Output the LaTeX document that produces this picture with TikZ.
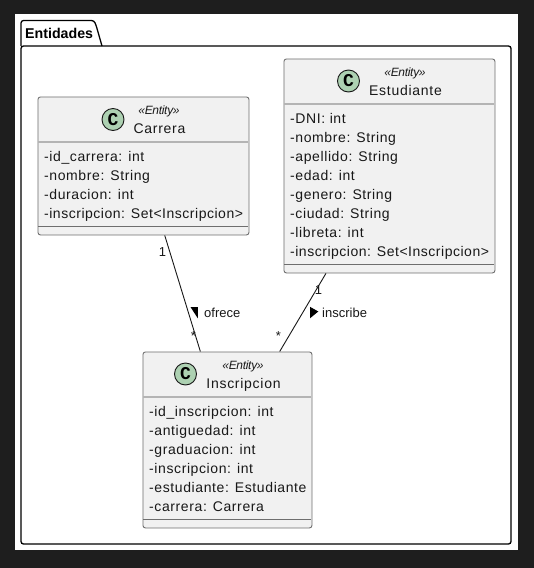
\documentclass[tikz,border=0pt]{standalone}
\usepackage{fontspec}
\setmainfont{Liberation Sans}
\newfontfamily\spaced[LetterSpace=4.3]{Liberation Sans}
\newfontfamily\spacedlong[LetterSpace=3.7]{Liberation Sans}
\newfontfamily\spacedname[LetterSpace=5.2]{Liberation Sans}
\newfontfamily\tightital[LetterSpace=-2.5]{Liberation Sans Italic}
\newfontfamily\circlefont{Liberation Mono}
\tikzset{
  classbox/.style={draw=boxline,fill=boxfill,line width=0.9pt,rounded corners=2.5pt,inner sep=0pt,anchor=north west},
  member/.style={anchor=base west,inner sep=0pt,font=\spaced\fontsize{14}{14}\selectfont,text=textc},
  longmember/.style={member,font=\spacedlong\fontsize{14}{14}\selectfont},
  classname/.style={anchor=base,inner sep=0pt,font=\spacedname\fontsize{14}{14}\selectfont,text=textc},
  stereo/.style={anchor=base,inner sep=0pt,font=\tightital\fontsize{12}{12}\selectfont,text=textc},
  small/.style={anchor=base,inner sep=0pt,font=\fontsize{13}{13}\selectfont,text=textc},
  badge/.style={circle,draw=textc,fill=badgec,line width=0.9pt,minimum size=22pt,inner sep=0pt,font=\circlefont\bfseries\fontsize{18}{18}\selectfont},
  sepgrey/.style={draw=sepc,line width=1.6pt},
  septhin/.style={draw=boxline,line width=0.8pt},
  link/.style={draw=textc,line width=0.9pt},
}
\definecolor{boxline}{HTML}{6E6E6E}
\definecolor{boxfill}{HTML}{F1F1F1}
\definecolor{sepc}{HTML}{B4B4B4}
\definecolor{textc}{HTML}{181818}
\definecolor{badgec}{HTML}{ADD1B2}
\definecolor{darkbg}{HTML}{1E1E1E}
\begin{document}
\begin{tikzpicture}[x=1pt,y=-1pt]
\useasboundingbox (0,0) rectangle (534,568);
\fill[darkbg] (0,0) rectangle (534,568);
\fill[white] (15,14) rectangle (518,550);
% package
\draw[black,line width=1.3pt,line join=round,rounded corners=2.5pt]
  (21,46) -- (21,20.5) -- (94,20.5) -- (96,25) -- (102,46);
\draw[black,line width=1.3pt,rounded corners=2.5pt]
  (21,46) -- (511,46) -- (511,544) -- (21,544) -- cycle;
\node[anchor=base west,inner sep=0pt,font=\bfseries\fontsize{14.2}{14}\selectfont,text=black] (pkg) at (25,38) {Entidades};

% class boxes
\node[classbox,minimum width=211pt,minimum height=138pt] (carrera) at (37.5,96.5) {};
\node[classbox,minimum width=211pt,minimum height=214pt] (estudiante) at (283.5,58.5) {};
\node[classbox,minimum width=169pt,minimum height=176pt] (inscripcion) at (142.5,351.5) {};

% connectors
\draw[link] (carrera) -- (inscripcion);
\draw[link] (estudiante) -- (inscripcion);

% separators
\draw[sepgrey] (38,142) -- (248,142);
\draw[septhin] (38,226) -- (248,226);
\draw[sepgrey] (284,104) -- (494,104);
\draw[septhin] (284,264) -- (494,264);
\draw[sepgrey] (143,397) -- (311,397);
\draw[septhin] (143,519) -- (311,519);

% Carrera
\node[badge] (cbadge) at (113,119.5) {C};
\node[stereo] (cster) at (159,114) {«Entity»};
\node[classname] (cname) at (159.5,133) {Carrera};
\node[member] (c1) at (44,161) {-id\_carrera: int};
\node[member] (c2) at (44,180) {-nombre: String};
\node[member] (c3) at (44,199) {-duracion: int};
\node[longmember] (c4) at (44,218) {-inscripcion: Set<Inscripcion>};

% Estudiante
\node[badge] (ebadge) at (348.5,81) {C};
\node[stereo] (ester) at (405,76) {«Entity»};
\node[classname] (ename) at (405.5,95) {Estudiante};
\node[member] (e1) at (290,123) {-DNI: int};
\node[member] (e2) at (290,142) {-nombre: String};
\node[member] (e3) at (290,161) {-apellido: String};
\node[member] (e4) at (290,180) {-edad: int};
\node[member] (e5) at (290,199) {-genero: String};
\node[member] (e6) at (290,218) {-ciudad: String};
\node[member] (e7) at (290,237) {-libreta: int};
\node[longmember] (e8) at (290,256) {-inscripcion: Set<Inscripcion>};

% Inscripcion
\node[badge] (ibadge) at (185.5,374) {C};
\node[stereo] (ister) at (243,369) {«Entity»};
\node[classname] (iname) at (243.5,388) {Inscripcion};
\node[member] (i1) at (149,416) {-id\_inscripcion: int};
\node[member] (i2) at (149,435) {-antiguedad: int};
\node[member] (i3) at (149,454) {-graduacion: int};
\node[member] (i4) at (149,473) {-inscripcion: int};
\node[member] (i5) at (149,492) {-estudiante: Estudiante};
\node[member] (i6) at (149,511) {-carrera: Carrera};

% link labels
\node[small] (m1) at (162.5,256) {1};
\node[small] (m2) at (193.5,340) {*};
\node[small] (m3) at (318.5,294) {1};
\node[small] (m4) at (278.5,340) {*};
\fill[black] (190.5,307) -- (197.8,307) -- (197.8,318.3) -- cycle;
\fill[black] (310,306.8) -- (318.3,311.5) -- (310,318.3) -- cycle;
\node[small,anchor=base west] (l1) at (204,317) {ofrece};
\node[small,anchor=base west] (l2) at (322,317) {inscribe};
\end{tikzpicture}
\end{document}
